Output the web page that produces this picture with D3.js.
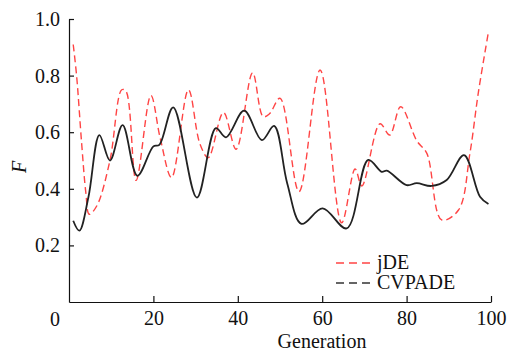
<!DOCTYPE html>
<html>
<head>
<meta charset="utf-8">
<script src="https://cdn.jsdelivr.net/npm/d3@7"></script>
<style>
  body { margin: 0; background: #fff; }
  svg text { font-family: "Liberation Serif", "Times New Roman", Tinos, "DejaVu Serif", serif; fill: #111; }
</style>
</head>
<body>
<div id="chart"></div>
<script>
// jDE (red dashed)
const jdeGen = [1, 1.8, 3, 4, 4.8, 6.6, 9.7, 12.5, 13.5, 15.9, 19.4, 21.6, 24.3, 28.3, 31, 33, 36.6, 39.6, 43.5, 46, 47.5, 50, 54.5, 59.5, 64.6, 67.8, 69.4, 73.7, 76, 78.6, 82.4, 84.8, 88.3, 92.3, 95, 97, 99.4];
const jdeF = [0.91, 0.80, 0.56, 0.385, 0.31, 0.34, 0.50, 0.75, 0.745, 0.43, 0.73, 0.58, 0.44, 0.75, 0.56, 0.51, 0.67, 0.54, 0.81, 0.655, 0.665, 0.72, 0.39, 0.82, 0.28, 0.47, 0.41, 0.63, 0.59, 0.69, 0.57, 0.525, 0.29, 0.325, 0.525, 0.74, 0.955];

// CVPADE (black)
const cvpadeGen = [1, 2.45, 4.6, 7.2, 9.7, 12.7, 16.2, 20, 21.4, 24.7, 30.3, 34.8, 37.2, 41.5, 45.7, 48.6, 51.7, 55.1, 60.1, 65.8, 70.9, 74.1, 75.3, 80, 82.4, 85.9, 89.5, 93.6, 97.4, 99.4];
const cvpadeF = [0.287, 0.252, 0.37, 0.59, 0.50, 0.625, 0.446, 0.55, 0.555, 0.688, 0.369, 0.614, 0.582, 0.676, 0.572, 0.622, 0.42, 0.276, 0.331, 0.26, 0.502, 0.46, 0.464, 0.413, 0.42, 0.41, 0.431, 0.519, 0.372, 0.346];

const xTicks = [20, 40, 60, 80, 100];
const yTicks = [0.2, 0.4, 0.6, 0.8, 1.0];
const seriesNames = ["jDE", "CVPADE"];
const seriesColors = ["#f44", "#333"];

const W = 507, H = 352;
const margin = { top: 19, right: 16, bottom: 50, left: 69 };
const serif = "'Liberation Serif', 'Times New Roman', Tinos, 'DejaVu Serif', serif";

const svg = d3.select("#chart").append("svg")
    .attr("width", W)
    .attr("height", H)
    .attr("font-family", serif);

const x = d3.scaleLinear().domain([0, 100]).range([margin.left, W - margin.right]);
const y = d3.scaleLinear().domain([0, 1]).range([H - margin.bottom, margin.top]);

// axes, ticks point inward
const xAxis = svg.append("g")
    .attr("transform", "translate(0," + (H - margin.bottom) + ")")
    .call(d3.axisBottom(x).tickValues(xTicks).tickSizeInner(-6).tickSizeOuter(0).tickPadding(9));
const yAxis = svg.append("g")
    .attr("transform", "translate(" + margin.left + ",0)")
    .call(d3.axisLeft(y).tickValues(yTicks).tickFormat(d3.format(".1f")).tickSizeInner(-5).tickSizeOuter(0).tickPadding(9));

[xAxis, yAxis].forEach(g => {
    g.attr("font-family", serif).attr("font-size", 20);
    g.select(".domain").attr("stroke", "#111").attr("stroke-width", 1.2);
    g.selectAll(".tick line").attr("stroke", "#111").attr("stroke-width", 1.2);
    g.selectAll(".tick text").attr("fill", "#111");
});

// origin label sits left of the corner
svg.append("text")
    .attr("x", x(0) - 14)
    .attr("y", H - margin.bottom + 24)
    .attr("text-anchor", "middle")
    .attr("font-size", 20)
    .text("0");

svg.append("text")
    .attr("x", 322)
    .attr("y", 348)
    .attr("text-anchor", "middle")
    .attr("font-size", 20)
    .text("Generation");

svg.append("text")
    .attr("transform", "translate(26,167) rotate(-90)")
    .attr("text-anchor", "middle")
    .attr("font-size", 20)
    .attr("font-style", "italic")
    .text("F");

const line = d3.line()
    .x(d => x(d[0]))
    .y(d => y(d[1]))
    .curve(d3.curveCatmullRom.alpha(0.5));

svg.append("path")
    .datum(d3.zip(jdeGen, jdeF))
    .attr("fill", "none")
    .attr("stroke", seriesColors[0])
    .attr("stroke-width", 1.4)
    .attr("stroke-dasharray", "7,4")
    .attr("d", line);

svg.append("path")
    .datum(d3.zip(cvpadeGen, cvpadeF))
    .attr("fill", "none")
    .attr("stroke", "#222")
    .attr("stroke-width", 1.8)
    .attr("d", line);

// legend
const legend = svg.append("g").attr("transform", "translate(336,263)");
seriesNames.forEach((name, i) => {
    legend.append("line")
        .attr("x1", 0).attr("x2", 34)
        .attr("y1", i * 20).attr("y2", i * 20)
        .attr("stroke", seriesColors[i])
        .attr("stroke-width", 1.5)
        .attr("stroke-dasharray", "8,5");
    legend.append("text")
        .attr("x", 41)
        .attr("y", i * 20 + 6)
        .attr("font-size", 20)
        .text(name);
});
</script>
</body>
</html>
